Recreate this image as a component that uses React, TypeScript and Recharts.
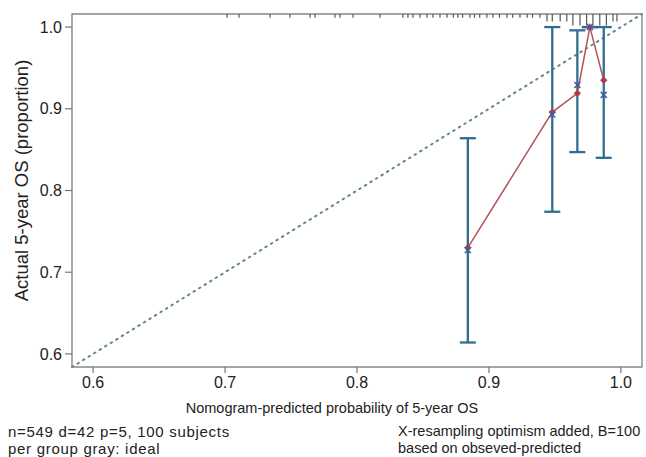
import React from 'react';
import {
  ComposedChart,
  XAxis,
  YAxis,
  Scatter,
  Line,
  ErrorBar,
  ReferenceLine,
  ReferenceArea,
  Label,
} from 'recharts';

// ---- data ----
const predicted = [0.884, 0.948, 0.967, 0.9765, 0.987];
const observed = [0.730, 0.896, 0.919, 1.0, 0.935];
const corrected = [0.727, 0.893, 0.929, 1.0, 0.917];
const lowerCI = [0.614, 0.774, 0.847, 1.0, 0.840];
const upperCI = [0.864, 1.0, 0.996, 1.0, 1.0];

const rugX = [
  0.7015, 0.7106, 0.7341, 0.7492, 0.7644, 0.7682, 0.7833, 0.7871, 0.797, 0.8174,
  0.8348, 0.8386, 0.8424, 0.8477, 0.853, 0.8576, 0.8629, 0.8682, 0.873, 0.8765,
  0.88, 0.8856, 0.889, 0.893, 0.8985, 0.903, 0.908, 0.9136, 0.918, 0.9235, 0.929,
  0.933, 0.9386, 0.944, 0.948, 0.954, 0.959, 0.9636, 0.969, 0.974, 0.9788, 0.984,
  0.989, 0.994, 0.997,
];
const rugCount = [
  1, 1, 1, 1, 1, 1, 1, 1, 1, 1,
  1, 1, 1, 1, 1, 1, 1, 1, 1, 1,
  1, 1, 1, 1, 1, 1, 1, 1, 1, 1, 1,
  1, 1, 2, 2, 2, 2, 3, 3, 3, 3, 3,
  3, 2, 2,
];

const axisTicks = [0.6, 0.7, 0.8, 0.9, 1.0];
const axisMin = 0.584;
const axisMax = 1.016;

const xTitle = 'Nomogram-predicted probability of 5-year OS';
const yTitle = 'Actual 5-year OS (proportion)';
const footLeft = ['n=549 d=42 p=5, 100 subjects', 'per group gray: ideal'];
const footRight = ['X-resampling optimism added, B=100', 'based on obseved-predicted'];

// ---- derived tables ----
const obsData = predicted.map((x, i) => ({
  x,
  y: observed[i],
  err: [observed[i] - lowerCI[i], upperCI[i] - observed[i]],
}));
const corrData = predicted.map((x, i) => ({ x, y: corrected[i] }));
const rugData = rugX.map((x, i) => ({ x, y: axisMax, n: rugCount[i] }));

const FONT = 'Liberation Sans, Arial, Helvetica, sans-serif';
const RED = '#b5535a';
const BLUE = '#2f6e8f';

const RedDot = (props: any) => {
  const { cx, cy } = props;
  if (cx == null || cy == null) return null;
  return (
    <g>
      <circle cx={cx} cy={cy} r={2.6} fill="#b0394a" />
      <line x1={cx - 3.5} y1={cy} x2={cx + 3.5} y2={cy} stroke="#b0394a" strokeWidth={1.2} />
      <line x1={cx} y1={cy - 3.5} x2={cx} y2={cy + 3.5} stroke="#b0394a" strokeWidth={1.2} />
    </g>
  );
};

const BlueX = (props: any) => {
  const { cx, cy } = props;
  if (cx == null || cy == null) return null;
  const s = 3;
  return (
    <g stroke="#3b5fa8" strokeWidth={1.5}>
      <line x1={cx - s} y1={cy - s} x2={cx + s} y2={cy + s} />
      <line x1={cx - s} y1={cy + s} x2={cx + s} y2={cy - s} />
    </g>
  );
};

const RugTick = (props: any) => {
  const { cx, cy, payload } = props;
  if (cx == null || cy == null) return null;
  return <line x1={cx} y1={cy} x2={cx} y2={cy + payload.n * 3.8} stroke="#555" strokeWidth={1.2} />;
};

const NoShape = () => <g />;

export default function App() {
  return (
    <div style={{ position: 'absolute', left: 0, top: 0, width: 646, height: 457, background: '#fff', fontFamily: FONT }}>
      <ComposedChart
        width={646}
        height={457}
        margin={{ top: 14, right: 4, left: 0, bottom: 0 }}
      >
        <XAxis
          dataKey="x"
          type="number"
          domain={[axisMin, axisMax]}
          ticks={axisTicks}
          allowDataOverflow
          tickFormatter={(v: number) => v.toFixed(1)}
          height={90}
          axisLine={false}
          tickSize={6}
          tickMargin={4}
          tickLine={{ stroke: '#777', strokeWidth: 1.2 }}
          tick={{ fontSize: 16, fill: '#222', fontFamily: FONT }}
        >
          <Label
            content={(p: any) => {
              const vb = p.viewBox || {};
              return (
                <text x={vb.x + vb.width / 2 - 25} y={vb.y + 46} textAnchor="middle" fontSize={14.5} fill="#222" fontFamily={FONT}>
                  {xTitle}
                </text>
              );
            }}
          />
        </XAxis>
        <YAxis
          dataKey="y"
          type="number"
          domain={[axisMin, axisMax]}
          ticks={axisTicks}
          allowDataOverflow
          tickFormatter={(v: number) => v.toFixed(1)}
          width={72}
          axisLine={false}
          tickSize={7}
          tickMargin={3}
          tickLine={{ stroke: '#777', strokeWidth: 1.2 }}
          tick={{ fontSize: 16, fill: '#222', fontFamily: FONT }}
        >
          <Label
            content={(p: any) => {
              const vb = p.viewBox || {};
              const cx = vb.x + 21;
              const cy = vb.y + vb.height / 2 - 10;
              return (
                <text x={cx} y={cy} textAnchor="middle" dominantBaseline="central" fontSize={18.5} fill="#222" fontFamily={FONT} transform={`rotate(-90 ${cx} ${cy})`}>
                  {yTitle}
                </text>
              );
            }}
          />
        </YAxis>
        <ReferenceArea x1={axisMin} x2={axisMax} y1={axisMin} y2={axisMax} fill="none" stroke="#888" strokeWidth={1.4} ifOverflow="visible" />
        <ReferenceLine
          segment={[{ x: axisMin, y: axisMin }, { x: axisMax, y: axisMax }]}
          stroke="#62878f"
          strokeWidth={2}
          strokeDasharray="1.5 5"
          strokeLinecap="round"
        />
        <Scatter data={rugData} dataKey="y" shape={RugTick} isAnimationActive={false} />
        <Scatter data={obsData} dataKey="y" shape={NoShape} isAnimationActive={false}>
          <ErrorBar dataKey="err" direction="y" width={8} stroke={BLUE} strokeWidth={2.3} />
        </Scatter>
        <Line
          data={obsData}
          dataKey="y"
          type="linear"
          stroke={RED}
          strokeWidth={1.5}
          dot={RedDot}
          activeDot={false}
          isAnimationActive={false}
        />
        <Scatter data={corrData} dataKey="y" shape={BlueX} isAnimationActive={false} />
      </ComposedChart>
      <div style={{ position: 'absolute', left: 8, top: 423, fontSize: 15, letterSpacing: '0.7px', lineHeight: '17px', color: '#222', whiteSpace: 'nowrap' }}>
        <div>{footLeft[0]}</div>
        <div>{footLeft[1]}</div>
      </div>
      <div style={{ position: 'absolute', left: 398, top: 423, fontSize: 14.5, lineHeight: '17px', color: '#222', whiteSpace: 'nowrap' }}>
        <div>{footRight[0]}</div>
        <div>{footRight[1]}</div>
      </div>
    </div>
  );
}
